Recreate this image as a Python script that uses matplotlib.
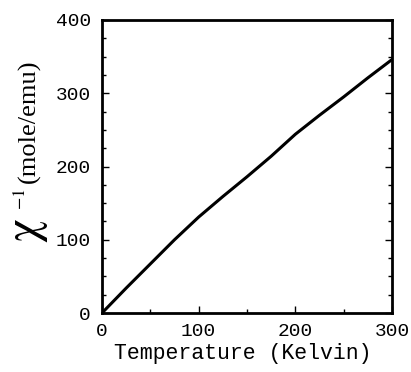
import matplotlib
matplotlib.use("Agg")
import matplotlib.pyplot as plt
from matplotlib.ticker import MultipleLocator

temperature = [0, 25, 50, 75, 100, 125, 150, 175, 200, 225, 250, 275, 300]
inv_chi = [0, 34, 67, 100, 131, 159, 186, 214, 244, 270, 295, 321, 346]

plt.rcParams["mathtext.fontset"] = "stix"
W, H = 411, 372
fig = plt.figure(figsize=(W/100, H/100), dpi=100)
ax = fig.add_axes([102/W, 1-313/H, 290/W, 293/H])
ax.plot(temperature, inv_chi, color="black", lw=2.2)
ax.set_xlim(0, 300)
ax.set_ylim(0, 400)
ax.xaxis.set_major_locator(MultipleLocator(100))
ax.xaxis.set_minor_locator(MultipleLocator(50))
ax.yaxis.set_major_locator(MultipleLocator(100))
ax.yaxis.set_minor_locator(MultipleLocator(25))
ax.tick_params(which="both", direction="in", right=True, top=False, labelsize=14)
ax.tick_params(which="major", length=5, width=1)
ax.tick_params(which="minor", length=3, width=1)
ax.tick_params(axis="x", which="major", pad=7)
ax.tick_params(axis="y", which="major", pad=8)
for lab in ax.get_xticklabels() + ax.get_yticklabels():
    lab.set_family("Liberation Mono")
for s in ax.spines.values():
    s.set_linewidth(2)

fig.text(243/W, 1-354/H, "Temperature (Kelvin)", family="Liberation Mono",
         fontsize=15.5, ha="center", va="center")
fig.text(27/W, 1-231/H, r"$\mathrm{\chi}$", fontsize=34, rotation=90,
         ha="center", va="center")
fig.text(20/W, 1-199/H, r"$-1$", fontsize=13, rotation=90,
         ha="center", va="center")
fig.text(29/W, 1-121/H, "(mole/emu)", family="Liberation Serif", fontsize=19,
         rotation=90, ha="center", va="center")
fig.savefig("out.png", dpi=100)
